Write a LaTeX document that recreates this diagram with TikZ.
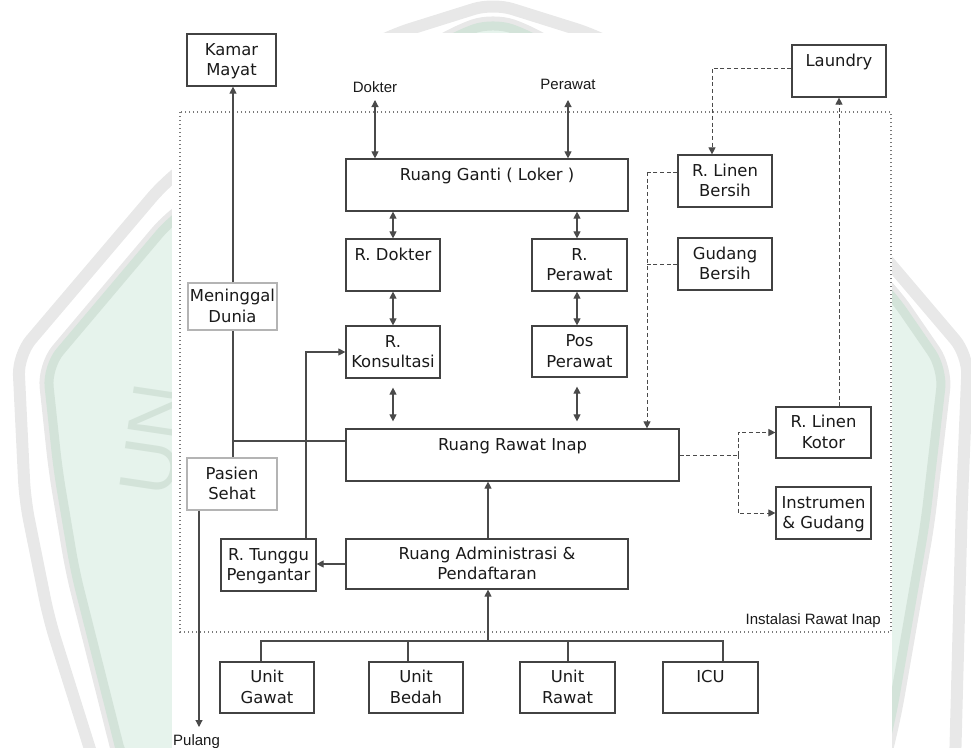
\documentclass[tikz,border=0pt]{standalone}
\usepackage{fontspec}
\setmainfont{DejaVu Sans}
\newfontfamily\lblfont{Liberation Sans}
\usetikzlibrary{arrows.meta,calc}

\definecolor{ink}{HTML}{1A1A1A}
\definecolor{edgec}{HTML}{424242}
\definecolor{softc}{HTML}{B4B4B4}
\definecolor{wirec}{HTML}{4A4A4A}
\definecolor{dotc}{HTML}{7A7A7A}
\definecolor{wmgrey}{HTML}{E8E8E8}
\definecolor{wmmint}{HTML}{E6F3EC}
\definecolor{wmgreen}{HTML}{D3E3D9}

% two text lines with fixed struts, so single-line labels sit on the top line
\newcommand\twolines[2]{\rule{0pt}{15.5pt}#1\\\rule[-5pt]{0pt}{5pt}#2}

\begin{document}
\begin{tikzpicture}[x=1pt,y=-1pt,
  room/.style={draw=edgec, line width=1.2pt, fill=white, align=center, text=ink,
    inner sep=0pt, font=\fontsize{16.4}{20.5}\selectfont, minimum height=52pt},
  faintroom/.style={room, draw=softc},
  lbl/.style={font=\lblfont\fontsize{15}{17}\selectfont, text=ink, inner sep=0pt},
  onearrow/.style={-{Triangle[length=7pt,width=7pt]}},
  twoway/.style={{Triangle[length=7pt,width=7pt]}-{Triangle[length=7pt,width=7pt]}},
  wire/.style={draw=wirec, line width=1.1pt},
  dashwire/.style={draw=wirec, line width=1pt, dash pattern=on 4pt off 2.7pt},
  framec/.style={draw=dotc, line width=1.2pt, dash pattern=on 1.2pt off 2.8pt},
]
\useasboundingbox (0,0) rectangle (971,747);

% ---------- background emblem ----------
\begin{scope}
  \clip (0,0) rectangle (971,747);
  \draw[wmgrey, line width=12pt, rounded corners=20pt]
    (95,765) -- (49,619) -- (25,500) -- (18,355) -- (165,182) -- (280,95)
    -- (391,35) -- (493,3) -- (595,35) -- (706,95) -- (821,182) -- (968,355)
    -- (962,500) -- (955,765);
  \path[fill=wmmint, rounded corners=20pt,
        preaction={draw=wmgrey, line width=19pt},
        postaction={draw=wmgreen, line width=9pt}]
    (124,765) -- (75,571) -- (58,470) -- (47,367) -- (172,219) -- (454,36)
    -- (493,22) -- (532,36) -- (814,219) -- (892,295) -- (943,369)
    -- (925,524) -- (892,714) -- (880,765) -- cycle;
  \node[font=\lblfont\fontsize{77}{77}\selectfont, text=wmgreen, rotate=81.5,
        anchor=base west, inner sep=0pt] (wmtext) at (171,499) {UN};
  % white sheet carrying the plan
  \fill[white] (172,33) rectangle (892,760);
\end{scope}

% ---------- boundary of the inpatient unit ----------
\draw[framec] (180,112) rectangle (891,632);
\node[lbl, anchor=base east] (irlbl) at (881,624) {Instalasi Rawat Inap};

% ---------- rooms ----------
\node[room, minimum width=89pt] (kamar) at (231.5,60) {\twolines{Kamar}{Mayat}};
\node[room, minimum width=94pt] (laundry) at (839,71) {\twolines{Laundry}{}};
\node[room, minimum width=282pt] (ganti) at (487,185) {\twolines{Ruang Ganti ( Loker )}{}};
\node[room, minimum width=94pt] (linenb) at (725,181) {\twolines{R. Linen}{Bersih}};
\node[room, minimum width=94pt] (dokter) at (393,265) {\twolines{R. Dokter}{}};
\node[room, minimum width=95pt] (rperawat) at (579.5,265) {\twolines{R.}{Perawat}};
\node[room, minimum width=94pt] (gudang) at (725,264) {\twolines{Gudang}{Bersih}};
\node[faintroom, minimum width=89pt, minimum height=47pt] (meninggal) at (232.5,306.5) {\twolines{Meninggal}{Dunia}};
\node[room, minimum width=94pt] (konsul) at (393,352) {\twolines{R.}{Konsultasi}};
\node[room, minimum width=95pt, minimum height=51pt] (pos) at (579.5,351.5) {\twolines{Pos}{Perawat}};
\node[room, minimum width=333pt] (rri) at (512.5,455) {\twolines{Ruang Rawat Inap}{}};
\node[room, minimum width=95pt, minimum height=51pt] (linenk) at (823.5,432.5) {\twolines{R. Linen}{Kotor}};
\node[room, minimum width=95pt] (instrumen) at (823.5,513) {\twolines{Instrumen}{\& Gudang}};
\node[faintroom, minimum width=90pt] (pasien) at (232,484) {\twolines{Pasien}{Sehat}};
\node[room, minimum width=95pt] (tunggu) at (268.5,565) {\twolines{R. Tunggu}{Pengantar}};
\node[room, minimum width=282pt, minimum height=50pt] (admin) at (487,564) {\twolines{Ruang Administrasi \&}{Pendaftaran}};
\node[room, minimum width=94pt, minimum height=51pt] (gawat) at (267,687.5) {\twolines{Unit}{Gawat}};
\node[room, minimum width=94pt, minimum height=51pt] (bedah) at (416,687.5) {\twolines{Unit}{Bedah}};
\node[room, minimum width=95pt, minimum height=51pt] (urawat) at (567.5,687.5) {\twolines{Unit}{Rawat}};
\node[room, minimum width=95pt, minimum height=51pt] (icu) at (710.5,687.5) {\twolines{ICU}{}};

% ---------- outside actors ----------
\node[lbl, anchor=base] (dlbl) at (375,92) {Dokter};
\node[lbl, anchor=base] (plbl) at (568,89) {Perawat};
\node[lbl, anchor=base west] (pulbl) at (173,745) {Pulang};

% ---------- helper columns and junctions ----------
\coordinate (dk) at (375,100);
\coordinate (pw) at (568,100);
\coordinate (colL) at (393,0);
\coordinate (colR) at (577,0);
\coordinate (j1) at (233,441);
\coordinate (pl) at (199,727);
\coordinate (tcol) at (306,0);
\coordinate (acol) at (488,0);
\coordinate (t1) at (261,641);
\coordinate (t2) at (408,641);
\coordinate (t3) at (568,641);
\coordinate (t4) at (723,641);
\coordinate (ld) at (712,68);
\coordinate (cl) at (647,172);
\coordinate (rk) at (738,455);
\coordinate (lk) at (839,0);

% ---------- solid flows ----------
\draw[wire, twoway] (dk) -- (dk |- ganti.north);
\draw[wire, twoway] (pw) -- (pw |- ganti.north);
\draw[wire, twoway] (colL |- ganti.south) -- (colL |- dokter.north);
\draw[wire, twoway] (colR |- ganti.south) -- (colR |- rperawat.north);
\draw[wire, twoway] (colL |- dokter.south) -- (colL |- konsul.north);
\draw[wire, twoway] (colR |- rperawat.south) -- (colR |- pos.north);
\draw[wire, twoway] ($(colL |- konsul.south)+(0,9)$) -- ($(colL |- rri.north)+(0,-7)$);
\draw[wire, twoway] ($(colR |- pos.south)+(0,9)$) -- ($(colR |- rri.north)+(0,-7)$);

\draw[wire] (j1 -| rri.west) -- (j1) -- (j1 |- pasien.north);
\draw[wire] (j1) -- (j1 |- meninggal.south);
\draw[wire, onearrow] (j1 |- meninggal.north) -- (j1 |- kamar.south);
\draw[wire, onearrow] (pl |- pasien.south) -- (pl);

\draw[wire, onearrow] (tcol |- tunggu.north) |- (konsul.west);
\draw[wire, onearrow] (admin.west) -- (admin.west -| tunggu.east);
\draw[wire, onearrow] (acol |- admin.north) -- (acol |- rri.south);

\draw[wire] (t1 |- gawat.north) -- (t1) -- (t4) -- (t4 |- icu.north);
\draw[wire] (t2 |- bedah.north) -- (t2);
\draw[wire] (t3 |- urawat.north) -- (t3);
\draw[wire, onearrow] (acol |- t1) -- (acol |- admin.south);

% ---------- linen flows (dashed) ----------
\draw[dashwire, onearrow] (ld -| laundry.west) -- (ld) -- (ld |- linenb.north);
\draw[dashwire] (cl -| linenb.west) -- (cl);
\draw[dashwire, onearrow] (cl) -- (cl |- rri.north);
\draw[dashwire] (gudang.west) -- (gudang.west -| cl);
\draw[dashwire] (rri.east) -- (rk);
\draw[dashwire, onearrow] (rk) |- (linenk.west);
\draw[dashwire, onearrow] (rk) |- (instrumen.west);
\draw[dashwire, onearrow] (lk |- linenk.north) -- (lk |- laundry.south);

\end{tikzpicture}
\end{document}
